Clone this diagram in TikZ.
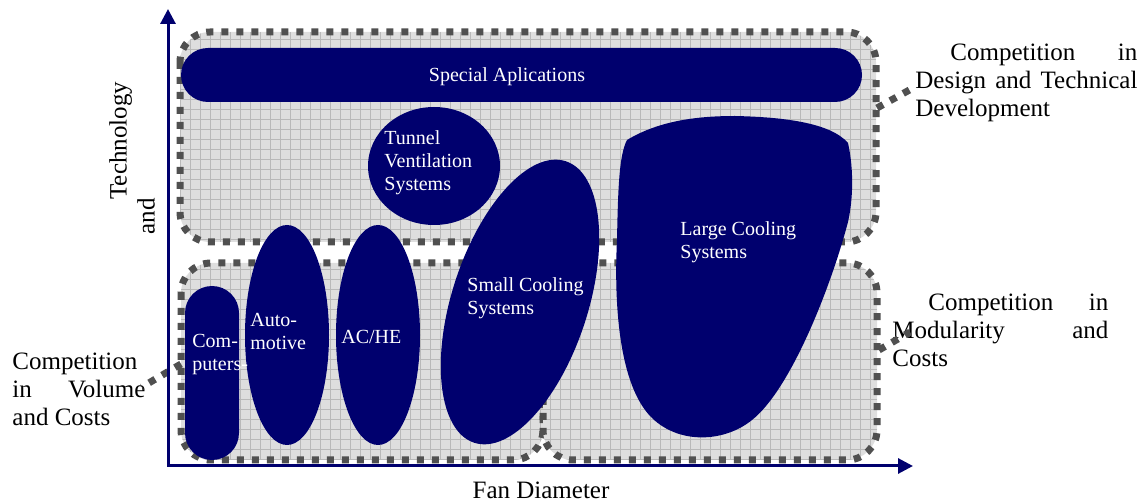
\documentclass[tikz,border=0pt]{standalone}
\usepackage{fontspec}
\setmainfont{Liberation Serif}
\usetikzlibrary{arrows.meta}

\definecolor{fannavy}{RGB}{0,0,110}
\definecolor{dotgray}{RGB}{80,80,80}
\definecolor{areagray}{RGB}{222,222,222}
\definecolor{gridgray}{RGB}{185,185,185}

\begin{document}
\begin{tikzpicture}[x=0.5pt,y=-0.5pt]
		\tikzstyle{axis}=[draw=fannavy,line width=1.5pt,line cap=rect,-{Triangle[length=7.5pt,width=7.5pt]}]
		\tikzstyle{dash line}=[draw=dotgray,line width=3.5pt,dash pattern=on 3.5pt off 4pt]
		\tikzstyle{market}=[dash line,fill=areagray,rounded corners=15pt,
			path picture={\draw[gridgray,solid,line width=0.5pt] (path picture bounding box.south west) grid[step=5pt] (path picture bounding box.north east);}]
		\tikzstyle{segment}=[fill=fannavy]
		\tikzstyle{inner label}=[text=white,font=\fontsize{10}{11.5}\selectfont,align=left,anchor=west,inner sep=0pt]
		\tikzstyle{outer label}=[font=\fontsize{12.5}{14}\selectfont,align=justify,anchor=west,inner sep=0pt]

		\useasboundingbox (0,0) rectangle (1147,502);

			% Draw the market areas
		\draw[market] (180,32) rectangle (876,242);
		\foreach \xa / \xb in {181/543,543/877}
		\draw[market] (\xa,263) rectangle (\xb,460);

			% Draw the fan segments
		\fill[segment,rounded corners=13.5pt] (181,48) rectangle (862,102);
		\fill[segment] (434,166) ellipse [x radius=66, y radius=59];
		\fill[segment,rounded corners=13.5pt] (185,286) rectangle (239,460);
		\foreach \cx in {287,378}
		\fill[segment] (\cx,335) ellipse [x radius=42, y radius=110];
		\fill[segment,rotate around={72:(520,302)}] (520,302) ellipse [x radius=148, y radius=68];
		\fill[segment] (627,140) .. controls (660,120) and (700,116) .. (735,116)
			.. controls (780,117) and (830,122) .. (848,143)
			.. controls (854,170) and (853,200) .. (848,222)
			.. controls (830,290) and (790,390) .. (752,420)
			.. controls (725,442) and (680,445) .. (652,418)
			.. controls (618,385) and (614,300) .. (617,240)
			.. controls (618,190) and (619,155) .. (627,140) -- cycle;

			% Label the segments
		\node[inner label,anchor=center] (special) at (507,77) {Special Aplications};
		\node[inner label] (tunnel) at (384,163) {Tunnel\\Ventilation\\Systems};
		\node[inner label] (computers) at (192,355) {Com-\\puters-};
		\node[inner label] (auto) at (250,331) {Auto-\\motive};
		\node[inner label] (achex) at (341,337) {AC/HE};
		\node[inner label] (small) at (467,298) {Small Cooling\\Systems};
		\node[inner label] (large) at (680,242) {Large Cooling\\Systems};

			% Annotate the areas
		\node[outer label,text width=111pt] (design) at (915,83)
			{\hspace*{17.5pt}Competition in\linebreak Design and Technical\linebreak Development};
		\node[outer label,text width=108pt] (modular) at (892,330)
			{\hspace*{18pt}Competition in\linebreak Modularity and\linebreak Costs};
		\node[outer label,text width=66.5pt] (volume) at (12,389)
			{Competition\linebreak in Volume\linebreak and Costs};

		\coordinate (design-a) at (877,108);
		\coordinate (design-b) at (913,88);
		\coordinate (modular-a) at (879,350);
		\coordinate (modular-b) at (910,332);
		\coordinate (volume-a) at (181,364);
		\coordinate (volume-b) at (142,387);
		\draw[dash line] (design-a) -- (design-b);
		\draw[dash line] (modular-a) -- (modular-b);
		\draw[dash line] (volume-a) -- (volume-b);

			% Draw the axes
		\coordinate (origin) at (168,466);
		\coordinate (y-tip) at (168,9);
		\coordinate (x-tip) at (913,466);
		\draw[axis] (origin) -- (y-tip);
		\draw[axis] (origin) -- (x-tip);
		\node[outer label,anchor=center] (fan) at (541,490) {Fan Diameter};
		\node[outer label,rotate=90,align=left] (tech) at (132,235) {\hspace*{17.5pt}Technology\\and};
\end{tikzpicture}
\end{document}
